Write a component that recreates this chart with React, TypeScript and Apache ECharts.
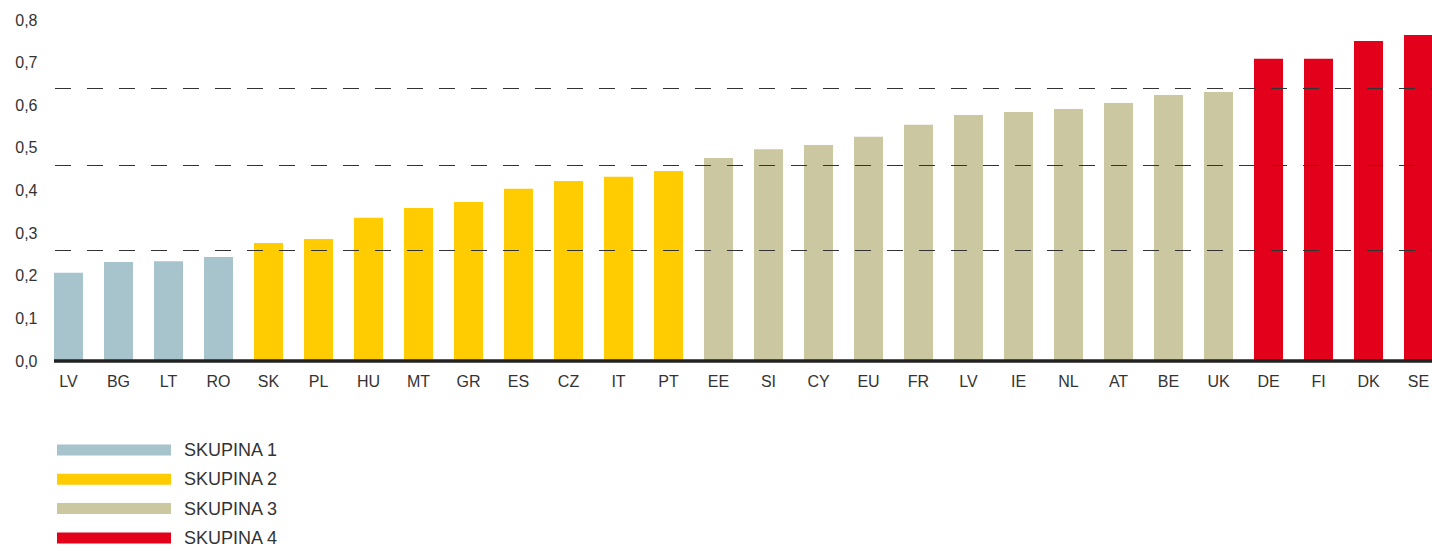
import React, { useEffect, useRef } from "react";
import * as echarts from "echarts";

const categories = ["LV", "BG", "LT", "RO", "SK", "PL", "HU", "MT", "GR", "ES", "CZ", "IT", "PT", "EE", "SI", "CY", "EU", "FR", "LV", "IE", "NL", "AT", "BE", "UK", "DE", "FI", "DK", "SE"];
const values = [0.207, 0.232, 0.234, 0.244, 0.277, 0.286, 0.336, 0.359, 0.373, 0.404, 0.422, 0.432, 0.446, 0.476, 0.497, 0.507, 0.526, 0.554, 0.577, 0.584, 0.591, 0.605, 0.624, 0.631, 0.709, 0.709, 0.751, 0.765];
const groups = [1, 1, 1, 1, 2, 2, 2, 2, 2, 2, 2, 2, 2, 3, 3, 3, 3, 3, 3, 3, 3, 3, 3, 3, 4, 4, 4, 4];
const groupNames = ["SKUPINA 1", "SKUPINA 2", "SKUPINA 3", "SKUPINA 4"];
const groupColors = ["#a7c4cd", "#fecc00", "#cbc7a0", "#e2001a"];
const thresholds = [0.26, 0.46, 0.64];
const yTicks = { min: 0, max: 0.8, interval: 0.1 };

const FONT = "'Liberation Sans', Arial, Helvetica, sans-serif";
const BAR_W = 29;

export default function App() {
  const ref = useRef<HTMLDivElement>(null);
  useEffect(() => {
    if (!ref.current) return;
    const chart = echarts.init(ref.current, null, { renderer: "svg" });
    const series = groupNames.map((name, gi) => ({
      name,
      type: "bar",
      stack: "all",
      barWidth: BAR_W,
      itemStyle: { color: groupColors[gi] },
      data: values.map((v, i) => (groups[i] === gi + 1 ? v : "-")),
    }));
    chart.setOption({
      animation: false,
      grid: { left: 43.5, top: 20, width: 1400, height: 341, outerBoundsMode: "none", containLabel: false },
      legend: {
        orient: "vertical",
        left: 57,
        top: 441,
        padding: 0,
        icon: "rect",
        itemWidth: 114,
        itemHeight: 11,
        itemGap: 11.3,
        textStyle: { fontFamily: FONT, fontSize: 18, color: "#333", lineHeight: 18, padding: [0, 0, 0, 8] },
        data: groupNames,
      },
      xAxis: {
        type: "category",
        data: categories,
        axisLine: { show: false },
        axisTick: { show: false },
        axisLabel: { interval: 0, margin: 12, fontFamily: FONT, fontSize: 16, color: "#333" },
      },
      yAxis: {
        type: "value",
        min: yTicks.min,
        max: yTicks.max,
        interval: yTicks.interval,
        splitLine: { show: false },
        axisLine: { show: false },
        axisTick: { show: false },
        axisLabel: {
          margin: 6,
          fontFamily: FONT,
          fontSize: 16,
          color: "#333",
          formatter: (v: number) => v.toFixed(1).replace(".", ","),
        },
      },
      series,
    });
    const xStart = (chart.convertToPixel({ xAxisIndex: 0 }, 0) as number) - BAR_W / 2;
    const xEnd = 1432;
    const y0 = chart.convertToPixel({ yAxisIndex: 0 }, 0) as number;
    const graphic: any[] = thresholds.map((t) => {
      const y = Math.round(chart.convertToPixel({ yAxisIndex: 0 }, t) as number) + 0.5;
      return {
        type: "line",
        z: 100,
        shape: { x1: xStart + 1, y1: y, x2: xEnd, y2: y },
        style: { stroke: "#333", lineWidth: 1, lineDash: [16, 16] },
      };
    });
    graphic.push({
      type: "line",
      z: 100,
      shape: { x1: xStart, y1: y0, x2: xEnd, y2: y0 },
      style: { stroke: "#222", lineWidth: 3.5 },
    });
    chart.setOption({ graphic });
    return () => chart.dispose();
  }, []);
  return <div ref={ref} style={{ position: "absolute", left: 0, top: 0, width: 1432, height: 551 }} />;
}
